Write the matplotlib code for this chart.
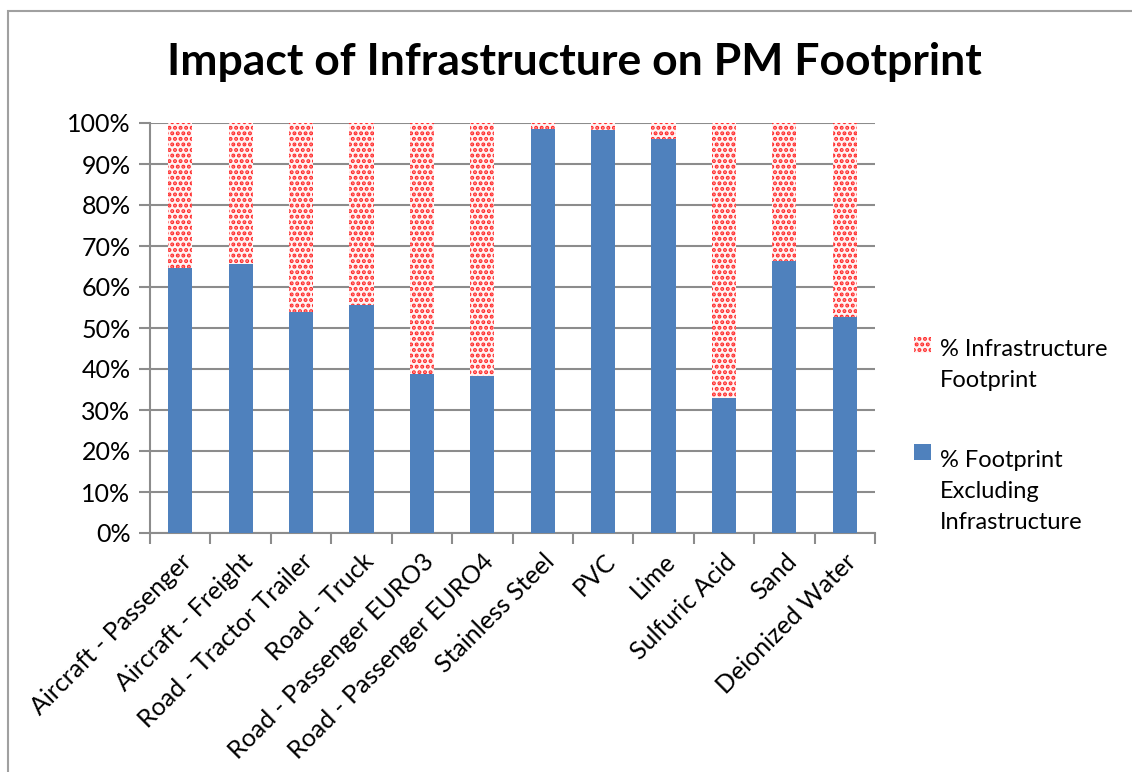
import matplotlib
matplotlib.use("Agg")
import matplotlib.pyplot as plt
import numpy as np
from matplotlib.patches import Rectangle
from matplotlib.legend_handler import HandlerPatch, update_from_first_child

plt.rcParams['font.family'] = ['Lato', 'DejaVu Sans']
plt.rcParams['hatch.linewidth'] = 2.0

# data (share of PM footprint, %)
categories = ['Aircraft - Passenger', 'Aircraft - Freight', 'Road - Tractor Trailer',
              'Road - Truck', 'Road - Passenger EURO3', 'Road - Passenger EURO4',
              'Stainless Steel', 'PVC', 'Lime', 'Sulfuric Acid', 'Sand', 'Deionized Water']
excl_infra = [64.6, 65.7, 54.0, 55.7, 38.7, 38.4, 98.5, 98.4, 96.1, 33.0, 66.3, 52.8]
infra = [100 - v for v in excl_infra]
y_ticks = [0, 10, 20, 30, 40, 50, 60, 70, 80, 90, 100]

blue = '#4F81BD'
grid_gray = '#8C8C8C'
leg_size = 17
line_spacing = 1.6

fig = plt.figure(figsize=(11.32, 7.72), dpi=100)
ax = fig.add_axes([150/1132, 1 - 533/772, 725/1132, 410/772])

x = np.arange(len(categories))
ax.bar(x, excl_infra, width=0.4, color=blue, zorder=3,
       label='% Footprint\nExcluding\nInfrastructure')
ax.bar(x, infra, width=0.4, bottom=excl_infra, facecolor='#FFF4F4', edgecolor='#FF2A2A',
       hatch='...', linewidth=0, zorder=3, label='% Infrastructure\nFootprint')

ax.set_xlim(-0.5, len(categories) - 0.5)
ax.set_ylim(0, 100)
ax.set_yticks(y_ticks)
ax.set_yticklabels(['%d%%' % t for t in y_ticks], fontsize=18)
ax.yaxis.grid(True, color=grid_gray, linewidth=1.5, zorder=0)
ax.set_axisbelow(True)

ax.set_xticks(x)
ax.set_xticklabels(categories, rotation=45, ha='right', rotation_mode='anchor', fontsize=18)
ax.set_xticks(np.arange(len(categories) + 1) - 0.5, minor=True)
ax.tick_params(axis='x', which='major', length=0, pad=12)
ax.tick_params(axis='x', which='minor', length=8, width=1.5, color=grid_gray)
ax.tick_params(axis='y', length=8, width=1.5, color=grid_gray, pad=6)

for s in ['top', 'right']:
    ax.spines[s].set_visible(False)
for s in ['left', 'bottom']:
    ax.spines[s].set_color(grid_gray)
    ax.spines[s].set_linewidth(1.5)

fig.text(574/1132, 1 - 62/772, 'Impact of Infrastructure on PM Footprint',
         ha='center', va='center', fontsize=32, fontweight='bold')


# legend marker lined up with the first line of its label (Excel style)
def top_patch(legend, orig_handle, xdescent, ydescent, width, height, fontsize):
    n_lines = orig_handle.get_label().count('\n') + 1
    shift = (n_lines - 1) / 2 * fontsize * line_spacing * 1.05
    return Rectangle((-xdescent, -ydescent + shift), width, height)


handler = HandlerPatch(patch_func=top_patch, update_func=update_from_first_child)
handles, labels = ax.get_legend_handles_labels()
leg = ax.legend(handles[::-1], labels[::-1], loc='center left',
                bbox_to_anchor=(914/1132, 1 - 436/772), bbox_transform=fig.transFigure,
                frameon=False, fontsize=leg_size, borderpad=0, borderaxespad=0,
                handlelength=0.7, handleheight=0.7, handletextpad=0.4, labelspacing=2.5,
                handler_map={h: handler for h in handles})
for t in leg.get_texts():
    t.set_linespacing(line_spacing)

# chart area border
fig.patches.append(Rectangle((8/1132, -0.1), 1.2, 1 - 11/772 + 0.1, transform=fig.transFigure,
                             fill=False, edgecolor='#A0A0A0', linewidth=1.5))

fig.savefig('out.png', dpi=100)
